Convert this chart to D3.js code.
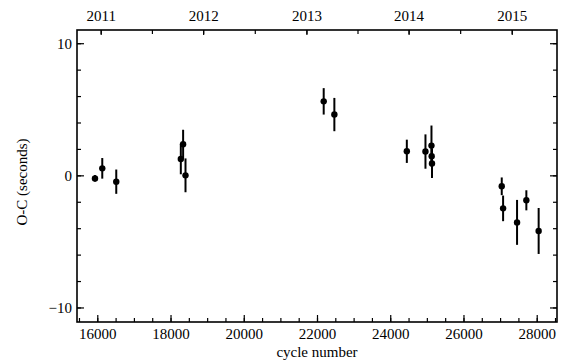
<!DOCTYPE html>
<html>
<head>
<meta charset="utf-8">
<script src="https://cdn.jsdelivr.net/npm/d3@7"></script>
<style>
  body { margin: 0; background: #fff; }
</style>
</head>
<body>
<div id="chart"></div>
<script>
let w = 570, h = 364,
	margins = {left: 77, right: 557, top: 30, bottom: 322},
	serif = "'Liberation Serif', 'DejaVu Serif', 'Times New Roman', serif",
	fontSize = 15

// O-C timings
let cycles = [15937, 16136, 16518, 18281, 18344, 18409, 22183, 22474, 24453, 24962, 25126, 25132, 25140, 27045, 27082, 27463, 27717, 28053]
let oc = [-0.23, 0.53, -0.48, 1.24, 2.35, 0.0, 5.6, 4.6, 1.82, 1.8, 2.25, 1.45, 0.9, -0.83, -2.5, -3.56, -1.89, -4.21]
let ocErr = [0.25, 0.78, 0.92, 1.16, 1.1, 1.28, 1.0, 1.26, 0.88, 1.3, 1.52, 0.8, 1.1, 0.67, 0.97, 1.7, 0.76, 1.74]

let xTicks = [16000, 18000, 20000, 22000, 24000, 26000, 28000]
let yTicks = [-10, 0, 10]
let years = [2011, 2012, 2013, 2014, 2015]
// cycle number at the start of each year (top axis)
let yearCycles = [16093, 18891, 21711, 24501, 27318]

let svg = d3.select("#chart").append("svg")
	.attr("width", w)
	.attr("height", h)
	.attr("font-family", serif)

let x = d3.scaleLinear()
	.domain([15446, 28554])
	.range([margins.left, margins.right])

let y = d3.scaleLinear()
	.domain([-11.1, 11.0])
	.range([margins.bottom, margins.top])

let yr = d3.scaleLinear()
	.domain(years)
	.range(yearCycles.map(c => x(c)))

let xMinor = d3.range(15500, 28600, 500)
let yMinor = d3.range(-10, 11, 2)
let yrMinor = d3.range(2011, 2015.01, 0.5)

let plotH = margins.bottom - margins.top,
	plotW = margins.right - margins.left

let styleAxis = g => {
	g.attr("font-family", serif).attr("font-size", fontSize)
	g.selectAll(".tick line").attr("stroke-width", 1.2)
	g.selectAll("text").attr("fill", "#000")
}

// bottom axis
svg.append("g")
	.attr("transform", "translate(0," + margins.bottom + ")")
	.call(d3.axisBottom(x).tickValues(xMinor).tickSize(-4).tickFormat(""))
	.call(styleAxis)
svg.append("g")
	.attr("transform", "translate(0," + margins.bottom + ")")
	.call(d3.axisBottom(x).tickValues(xTicks).tickSize(-7).tickPadding(6).tickFormat(d3.format("d")))
	.call(styleAxis)

// top axis (years)
svg.append("g")
	.attr("transform", "translate(0," + margins.top + ")")
	.call(d3.axisTop(yr).tickValues(yrMinor).tickSize(-4).tickFormat(""))
	.call(styleAxis)
svg.append("g")
	.attr("transform", "translate(0," + margins.top + ")")
	.call(d3.axisTop(yr).tickValues(years).tickSize(-5).tickPadding(9).tickFormat(d3.format("d")))
	.call(styleAxis)

// left axis
svg.append("g")
	.attr("transform", "translate(" + margins.left + ",0)")
	.call(d3.axisLeft(y).tickValues(yMinor).tickSize(-4).tickFormat(""))
	.call(styleAxis)
svg.append("g")
	.attr("transform", "translate(" + margins.left + ",0)")
	.call(d3.axisLeft(y).tickValues(yTicks).tickSize(-7).tickPadding(5).tickFormat(d => d < 0 ? "\u2212" + (-d) : d))
	.call(styleAxis)

// right axis (mirror ticks)
svg.append("g")
	.attr("transform", "translate(" + margins.right + ",0)")
	.call(d3.axisRight(y).tickValues(yMinor).tickSize(-4).tickFormat(""))
	.call(styleAxis)
svg.append("g")
	.attr("transform", "translate(" + margins.right + ",0)")
	.call(d3.axisRight(y).tickValues(yTicks).tickSize(-7).tickFormat(""))
	.call(styleAxis)

svg.selectAll(".domain").remove()

// frame
svg.append("rect")
	.attr("x", margins.left)
	.attr("y", margins.top)
	.attr("width", plotW)
	.attr("height", plotH)
	.attr("fill", "none")
	.attr("stroke", "#000")
	.attr("stroke-width", 1.6)

let data = cycles.map((c, i) => ({c: c, v: oc[i], e: ocErr[i]}))

// error bars
svg.selectAll("line.err")
	.data(data)
	.enter()
	.append("line")
	.attr("class", "err")
	.attr("x1", d => x(d.c))
	.attr("x2", d => x(d.c))
	.attr("y1", d => y(d.v - d.e))
	.attr("y2", d => y(d.v + d.e))
	.attr("stroke", "#000")
	.attr("stroke-width", 2)

// points
svg.selectAll("circle")
	.data(data)
	.enter()
	.append("circle")
	.attr("cx", d => x(d.c))
	.attr("cy", d => y(d.v))
	.attr("r", 3.2)
	.attr("fill", "#000")

// axis labels
svg.append("text")
	.attr("x", (margins.left + margins.right) / 2)
	.attr("y", 357)
	.attr("text-anchor", "middle")
	.attr("font-size", fontSize)
	.text("cycle number")

svg.append("text")
	.attr("transform", "rotate(-90)")
	.attr("x", -182)
	.attr("y", 27)
	.attr("text-anchor", "middle")
	.attr("font-size", fontSize)
	.text("O-C (seconds)")
</script>
</body>
</html>
